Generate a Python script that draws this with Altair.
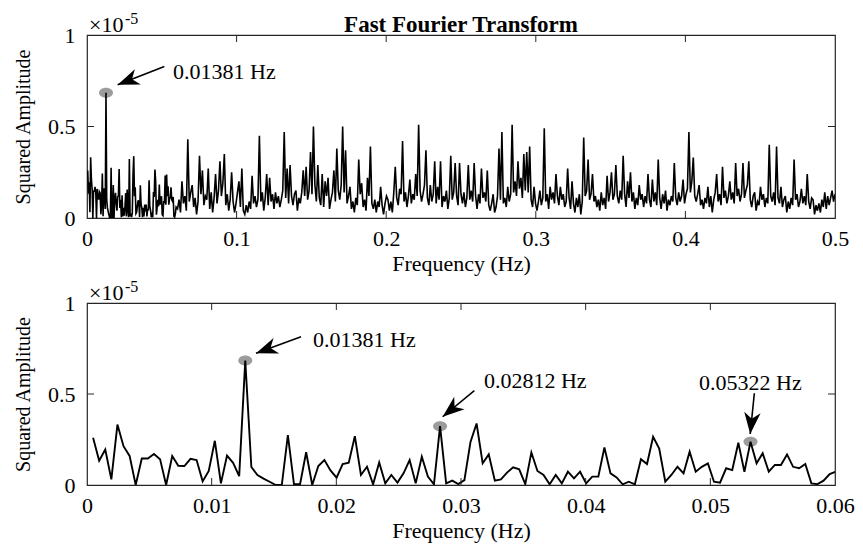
import math
import altair as alt
import pandas as pd

# ---------------- data (amplitudes in units of 1e-5) ----------------
BIN = 1 / 2048  # frequency resolution (Hz)

# fine spectrum, bins k = 1..123 (bottom panel, also start of top panel)
fine_amp = [
    0.26, 0.133, 0.195, 0.031, 0.332, 0.213, 0.16, 0.0, 0.146, 0.146,
    0.17, 0.142, 0.0, 0.159, 0.106, 0.104, 0.144, 0.137, 0.02, 0.077,
    0.243, 0.009, 0.162, 0.122, 0.049, 0.684, 0.099, 0.055, 0.035, 0.018,
    0.0, 0.0, 0.274, 0.005, 0.004, 0.18, 0.0, 0.104, 0.137, 0.08,
    0.04, 0.115, 0.122, 0.268, 0.055, 0.1, 0.004, 0.124, 0.009, 0.055,
    0.013, 0.064, 0.137, 0.009, 0.155, 0.046, 0.004, 0.323, 0.009, 0.024,
    0.005, 0.027, 0.237, 0.338, 0.119, 0.168, 0.024, 0.031, 0.068, 0.097,
    0.086, 0.005, 0.179, 0.077, 0.055, 0.004, 0.055, 0.009, 0.073, 0.036,
    0.073, 0.009, 0.046, 0.046, 0.206, 0.064, 0.042, 0.004, 0.018, 0.004,
    0.142, 0.115, 0.265, 0.2, 0.018, 0.055, 0.1, 0.064, 0.183, 0.073,
    0.1, 0.119, 0.018, 0.013, 0.092, 0.082, 0.232, 0.073, 0.238, 0.119,
    0.174, 0.073, 0.11, 0.11, 0.168, 0.1, 0.092, 0.115, 0.009, 0.005,
    0.024, 0.06, 0.073,
]

# rest of the spectrum, every 2 bins (j/1024 Hz, j = 62..512), in 1e-7 units
tail_amp = [
    5, 10, 3, 20, 8, 12, 4, 43, 9, 14,
    18, 6, 11, 2, 9, 34, 13, 26, 7, 12,
    10, 27, 5, 14, 3, 11, 24, 8, 15, 31,
    12, 19, 35, 7, 13, 4, 10, 25, 9, 3,
    8, 14, 20, 6, 27, 4, 2, 7, 3, 9,
    5, 23, 8, 12, 6, 10, 45, 9, 14, 4,
    11, 24, 7, 22, 9, 13, 5, 14, 8, 12,
    6, 10, 15, 47, 11, 27, 8, 29, 12, 7,
    13, 15, 4, 11, 8, 14, 26, 12, 28, 10,
    15, 36, 13, 50, 18, 9, 29, 11, 7, 24,
    6, 20, 12, 22, 5, 10, 14, 26, 9, 38,
    15, 10, 18, 50, 14, 37, 8, 12, 17, 5,
    9, 3, 11, 7, 32, 13, 19, 6, 10, 4,
    22, 12, 39, 8, 5, 10, 3, 9, 6, 17,
    7, 2, 8, 12, 10, 4, 9, 3, 14, 28,
    11, 7, 16, 13, 42, 9, 14, 6, 12, 21,
    8, 13, 10, 24, 12, 51, 15, 9, 13, 18,
    37, 11, 7, 18, 9, 13, 31, 8, 17, 10,
    31, 6, 12, 9, 15, 5, 11, 34, 10, 14,
    30, 12, 7, 30, 13, 8, 14, 6, 11, 29,
    10, 15, 9, 30, 12, 5, 13, 8, 27, 11,
    14, 9, 26, 7, 4, 8, 13, 3, 6, 12,
    38, 10, 47, 8, 11, 6, 17, 9, 13, 51,
    14, 20, 12, 31, 16, 22, 11, 35, 15, 36,
    14, 39, 10, 6, 17, 8, 4, 9, 15, 7,
    11, 49, 9, 13, 5, 17, 10, 14, 8, 24,
    12, 7, 17, 10, 13, 6, 9, 27, 11, 5,
    20, 8, 3, 11, 6, 13, 2, 9, 44, 12,
    15, 32, 10, 13, 24, 9, 12, 6, 10, 4,
    14, 7, 11, 5, 23, 9, 14, 25, 10, 13,
    29, 12, 8, 15, 10, 34, 13, 6, 20, 11,
    25, 9, 14, 5, 11, 7, 18, 10, 13, 6,
    12, 8, 24, 10, 6, 21, 9, 14, 7, 32,
    11, 5, 13, 8, 15, 4, 10, 7, 12, 9,
    30, 11, 7, 14, 9, 12, 21, 8, 13, 16,
    47, 14, 20, 33, 12, 9, 13, 18, 7, 10,
    5, 11, 8, 17, 6, 12, 3, 10, 14, 24,
    9, 13, 7, 28, 11, 15, 8, 12, 20, 10,
    14, 8, 30, 12, 16, 9, 13, 30, 11, 15,
    18, 31, 10, 6, 12, 14, 4, 9, 7, 17,
    10, 13, 6, 11, 8, 40, 12, 9, 14, 7,
    39, 11, 8, 17, 6, 10, 12, 3, 9, 5,
    11, 7, 32, 10, 13, 6, 9, 16, 8, 12,
    7, 24, 9, 5, 11, 10, 2, 7, 4, 8,
    3, 10, 6, 14, 5, 12, 7, 11, 15, 9, 13,
]

peak_bins_top = [26]
peak_bins_bottom = [26, 58, 109]
peak_labels = ["0.01381 Hz", "0.02812 Hz", "0.05322 Hz"]

# annotation positions (data coordinates: Hz, 1e-5)
top_arrow = {"x": [0.0517], "y": [0.828], "x2": [0.0205], "y2": [0.728]}
top_text = {"x": [0.0575], "y": [0.80], "t": [peak_labels[0]]}
bot_arrow = {"x": [0.01717, 0.03107, 0.05353], "y": [0.815, 0.518, 0.504],
             "x2": [0.01356, 0.02853, 0.0532], "y2": [0.724, 0.375, 0.28]}
bot_text = {"x": [0.01813, 0.03184, 0.04909], "y": [0.797, 0.571, 0.56],
            "t": peak_labels}

top_xticks = [0, 0.1, 0.2, 0.3, 0.4, 0.5]
bot_xticks = [0, 0.01, 0.02, 0.03, 0.04, 0.05, 0.06]
yticks = [0, 0.5, 1]

# ---------------- build tables ----------------
fine_f = [(k + 1) * BIN for k in range(len(fine_amp))]
tail_f = [(62 + j) / 1024 for j in range(len(tail_amp))]
top_df = pd.DataFrame({"f": fine_f[:122] + tail_f,
                       "a": fine_amp[:122] + [v / 100 for v in tail_amp]})
bot_df = pd.DataFrame({"f": fine_f, "a": fine_amp})

FONT = "Liberation Serif"
W = 748
H1, H2 = 183, 182
TICK = 7
ELLIPSE = "M-1.4,0 A1.4,1 0 1,0 1.4,0 A1.4,1 0 1,0 -1.4,0 Z"
HEAD = "M0,0 L0.72,1.9 L0,1.35 L-0.72,1.9 Z"


def angles(arr, xmax, h):
    out = []
    for x, y, x2, y2 in zip(arr["x"], arr["y"], arr["x2"], arr["y2"]):
        dx = (x2 - x) * W / xmax
        dy = -(y2 - y) * h
        out.append(math.degrees(math.atan2(dx, -dy)) % 360)
    return out


def panel(df, xmax, xticks, fmt, h, peaks, arrow, text, lw):
    xs = alt.Scale(domain=[0, xmax], nice=False, zero=False)
    ys = alt.Scale(domain=[0, 1], nice=False)
    xax = alt.Axis(values=xticks, format=fmt, title="Frequency (Hz)",
                   labelFlush=False, labelOverlap=False, labelBound=False,
                   labelPadding=10, titlePadding=4, grid=False, domain=False, ticks=False,
                   labelFont=FONT, labelFontSize=22, labelColor="black",
                   titleFont=FONT, titleFontSize=22, titleFontWeight="normal",
                   titleColor="black")
    yax = alt.Axis(values=yticks, format=".1~f", title="Squared Amplitude",
                   labelPadding=12, titlePadding=14, grid=False, domain=False, ticks=False,
                   labelFont=FONT, labelFontSize=22, labelColor="black",
                   titleFont=FONT, titleFontSize=20, titleFontWeight="normal",
                   titleColor="black")

    line = alt.Chart(df).mark_line(color="black", strokeWidth=lw, clip=True).encode(
        x=alt.X("f:Q", scale=xs, axis=xax),
        y=alt.Y("a:Q", scale=ys, axis=yax),
    )
    pk = pd.DataFrame({"f": [df.f[i - 1] for i in peaks],
                       "a": [df.a[i - 1] for i in peaks]})
    circles = alt.Chart(pk).mark_point(shape=ELLIPSE, filled=True, color="#9c9c9c",
                                       opacity=1, size=100, strokeWidth=0).encode(
        x=alt.X("f:Q", scale=xs), y=alt.Y("a:Q", scale=ys))
    adf = pd.DataFrame(arrow)
    adf["ang"] = angles(arrow, xmax, h)
    shafts = alt.Chart(adf).mark_rule(color="black", strokeWidth=1.6).encode(
        x=alt.X("x:Q", scale=xs), y=alt.Y("y:Q", scale=ys), x2="x2:Q", y2="y2:Q")
    heads = alt.Chart(adf).mark_point(shape=HEAD, filled=True, color="black",
                                      opacity=1, size=520, strokeWidth=0).encode(
        x=alt.X("x2:Q", scale=xs), y=alt.Y("y2:Q", scale=ys),
        angle=alt.Angle("ang:Q", scale=None))
    labels = alt.Chart(pd.DataFrame(text)).mark_text(
        align="left", baseline="middle", font=FONT, fontSize=22, color="black").encode(
        x=alt.X("x:Q", scale=xs), y=alt.Y("y:Q", scale=ys), text="t:N")

    tdf = pd.DataFrame({"v": xticks[1:-1]})
    ticks_b = alt.Chart(tdf).mark_rule(color="#262626", strokeWidth=1).encode(
        x=alt.X("v:Q", scale=xs), y=alt.value(h), y2=alt.value(h - TICK))
    ticks_t = alt.Chart(tdf).mark_rule(color="#262626", strokeWidth=1).encode(
        x=alt.X("v:Q", scale=xs), y=alt.value(0), y2=alt.value(TICK))
    ydf = pd.DataFrame({"v": [0.5]})
    ticks_l = alt.Chart(ydf).mark_rule(color="#262626", strokeWidth=1).encode(
        y=alt.Y("v:Q", scale=ys), x=alt.value(0), x2=alt.value(TICK))
    ticks_r = alt.Chart(ydf).mark_rule(color="#262626", strokeWidth=1).encode(
        y=alt.Y("v:Q", scale=ys), x=alt.value(W), x2=alt.value(W - TICK))

    exp_main = alt.Chart(pd.DataFrame({"t": ["×10"]})).mark_text(
        align="left", baseline="alphabetic", font=FONT, fontSize=22, color="black").encode(
        text="t:N", x=alt.value(2), y=alt.value(-3))
    exp_sup = alt.Chart(pd.DataFrame({"t": ["-5"]})).mark_text(
        align="left", baseline="alphabetic", font=FONT, fontSize=16, color="black").encode(
        text="t:N", x=alt.value(38), y=alt.value(-11))

    layers = [circles, line, shafts, heads, labels, ticks_b, ticks_t, ticks_l, ticks_r,
              exp_main, exp_sup]
    return alt.layer(*layers).properties(width=W, height=h)


top = panel(top_df, 0.5, top_xticks, ".1~f", H1, peak_bins_top, top_arrow, top_text, 1.6)
title = alt.Chart(pd.DataFrame({"t": ["Fast Fourier Transform"]})).mark_text(
    align="center", baseline="alphabetic", font=FONT, fontSize=23, fontWeight="bold",
    color="black").encode(text="t:N", x=alt.value(W / 2), y=alt.value(-3))
top = alt.layer(top, title)

bottom = panel(bot_df, 0.06, bot_xticks, ".2~f", H2, peak_bins_bottom, bot_arrow,
               bot_text, 1.9)

chart = alt.vconcat(top, bottom, spacing=85, bounds="flush").properties(
    padding={"left": 12, "top": 10, "right": 5, "bottom": 5},
    background="white",
).configure_view(
    stroke="#262626", strokeWidth=1.2
)

chart.save("out.html", embed_options={"renderer": "svg", "actions": False})
